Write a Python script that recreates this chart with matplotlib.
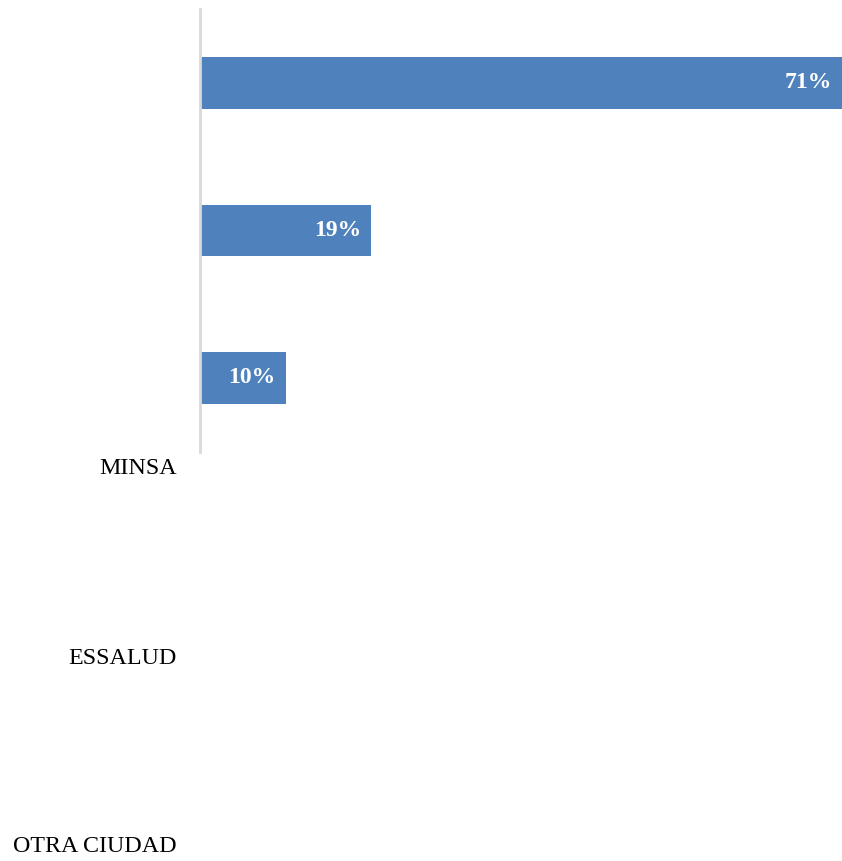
import matplotlib.pyplot as plt

categories = ['MINSA', 'ESSALUD', 'OTRA CIUDAD']
values = [71.43, 19.05, 9.52]
value_labels = ['71%', '19%', '10%']

plt.rcParams['font.family'] = ['Liberation Serif', 'DejaVu Serif']

fig = plt.figure(figsize=(8.42, 8.62), dpi=100)
W, H = 842, 862

# axes box in pixels: x 200..842, y 10..453
ax = fig.add_axes([200 / W, 1 - 453 / H, 642 / W, 443 / H])
ypos = list(range(len(categories)))
ax.barh(ypos, values, height=0.35, color='#4f81bd')
ax.set_xlim(0, max(values))
ax.set_ylim(len(categories) - 0.5, -0.5)
ax.set_xticks([])
ax.set_yticks([])
for s in ['top', 'right', 'bottom']:
    ax.spines[s].set_visible(False)
ax.spines['left'].set_color('#d9d9d9')
ax.spines['left'].set_linewidth(2)

for y, v, lab in zip(ypos, values, value_labels):
    ax.annotate(lab, (v, y), xytext=(-7, 1), textcoords='offset points',
                ha='right', va='center', color='white', fontsize=17,
                fontweight='bold')

# category labels sit below the plot, as in the original
label_y = [469, 658, 847]
for yy, c in zip(label_y, categories):
    fig.text(177 / W, 1 - yy / H, c, ha='right', va='center', fontsize=17.3,
             color='black')

fig.savefig('out.png', dpi=100)
